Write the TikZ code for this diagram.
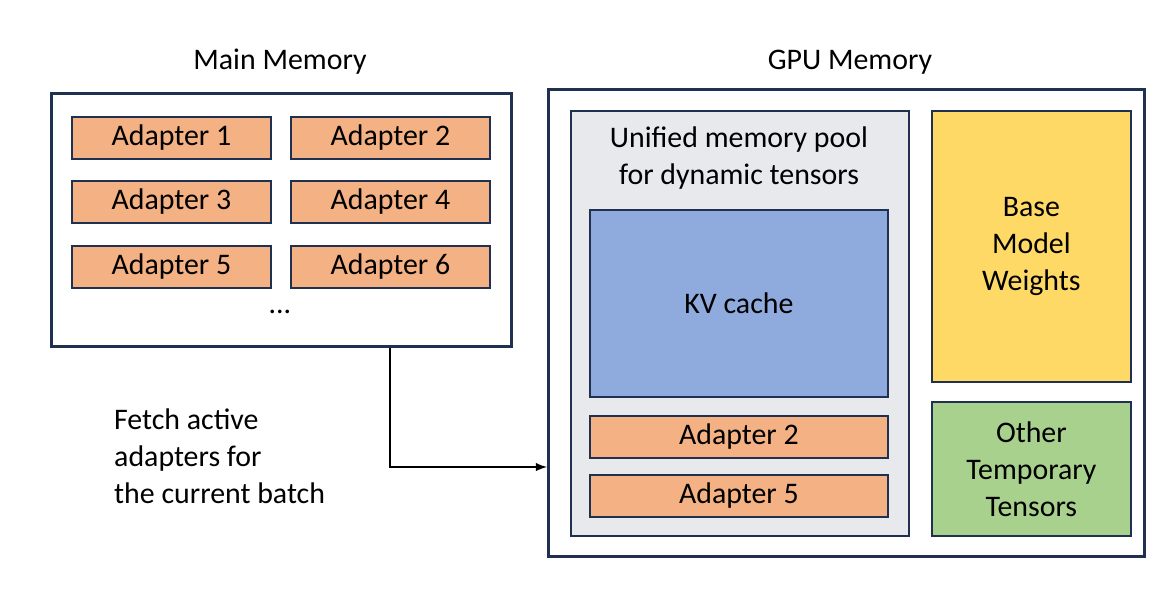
\documentclass[tikz,border=0pt]{standalone}
\usepackage{fontspec}
\setmainfont{Carlito}
\definecolor{navy}{HTML}{1F3050}
\definecolor{adapt}{HTML}{F4B183}
\definecolor{kvblue}{HTML}{8FAADC}
\definecolor{basey}{HTML}{FFD966}
\definecolor{othg}{HTML}{A9D18E}
\definecolor{pool}{HTML}{E7E9EC}
\tikzset{
  box/.style = {draw = navy, line width = 1.5pt, anchor = north west, inner sep = 0pt},
  adapterbox/.style = {box, fill = adapt, line width = 1pt, minimum width = 199*0.02cm, minimum height = 42*0.02cm},
  label/.style = {font = \fontsize{17}{21}\selectfont, align = center}
}
\begin{document}
\begin{tikzpicture}[x = 0.02cm, y = -0.02cm]
\useasboundingbox (0, 0) rectangle (1174, 600);
% main memory
\node[label] (mmtitle) at (280, 62) {Main Memory};
\node[box, minimum width = 460*0.02cm, minimum height = 253*0.02cm] (mm) at (50, 92) {};
\node[adapterbox] (a1) at (71, 116) {};
\node[label] at (a1.center) {Adapter 1};
\node[adapterbox] (a2) at (290, 116) {};
\node[label] at (a2.center) {Adapter 2};
\node[adapterbox] (a3) at (71, 180) {};
\node[label] at (a3.center) {Adapter 3};
\node[adapterbox] (a4) at (290, 180) {};
\node[label] at (a4.center) {Adapter 4};
\node[adapterbox] (a5) at (71, 245) {};
\node[label] at (a5.center) {Adapter 5};
\node[adapterbox] (a6) at (290, 245) {};
\node[label] at (a6.center) {Adapter 6};
\node[label] (dots) at (280, 312) {...};
% gpu memory
\node[label] (gputitle) at (850, 62) {GPU Memory};
\node[box, minimum width = 596*0.02cm, minimum height = 467*0.02cm] (gpu) at (547, 88) {};
\node[box, fill = pool, line width = 1pt, minimum width = 338*0.02cm, minimum height = 425*0.02cm] (pool) at (570, 110) {};
\node[label] (pooltext) at (739, 158) {Unified memory pool\\for dynamic tensors};
\node[box, fill = kvblue, line width = 1pt, minimum width = 298*0.02cm, minimum height = 187*0.02cm] (kv) at (589, 209) {};
\node[label] at (kv.center) {KV cache};
\node[adapterbox, minimum width = 298*0.02cm] (g2) at (589, 415) {};
\node[label] at (g2.center) {Adapter 2};
\node[adapterbox, minimum width = 298*0.02cm] (g5) at (589, 474) {};
\node[label] at (g5.center) {Adapter 5};
\node[box, fill = basey, line width = 1pt, minimum width = 199*0.02cm, minimum height = 271*0.02cm] (base) at (931, 110) {};
\node[label] at (base.center) {Base\\Model\\Weights};
\node[box, fill = othg, line width = 1pt, minimum width = 199*0.02cm, minimum height = 134*0.02cm] (other) at (931, 401) {};
\node[label] at (other.center) {Other\\Temporary\\Tensors};
% fetch arrow
\coordinate (turn) at (390, 467);
\draw[-latex, line width = 1.2pt] (mm.south west -| turn) -- (turn) -- (turn -| gpu.west);
\node[label, align = left, anchor = west] (fetch) at (108, 456) {Fetch active\\adapters for\\the current batch};
\end{tikzpicture}
\end{document}
